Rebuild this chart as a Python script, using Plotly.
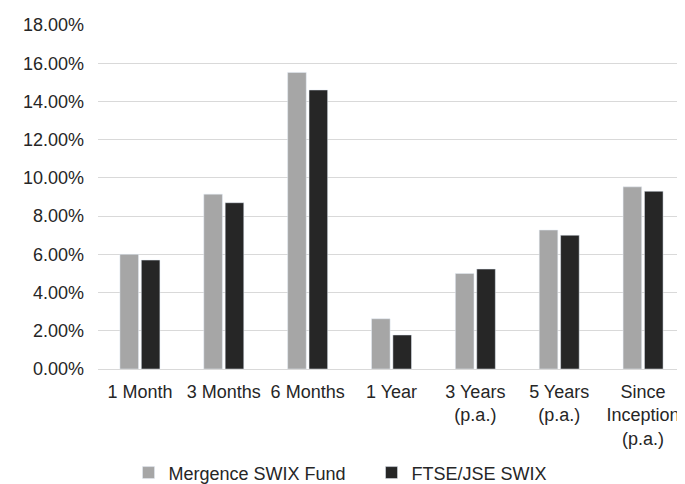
import plotly.graph_objects as go

categories = ["1 Month", "3 Months", "6 Months", "1 Year", "3 Years<br>(p.a.)",
              "5 Years<br>(p.a.)", "Since<br>Inception<br>(p.a.)"]
fund = [6.00, 9.15, 15.52, 2.63, 5.00, 7.27, 9.53]
bench = [5.70, 8.70, 14.60, 1.78, 5.23, 7.00, 9.30]
series_names = ["Mergence SWIX Fund", "FTSE/JSE SWIX"]

font = dict(family="Arial, Liberation Sans, sans-serif", size=18, color="#262626")

fig = go.Figure()
fig.add_trace(go.Bar(x=categories, y=fund, name=series_names[0], marker_color="#A6A6A6"))
fig.add_trace(go.Bar(x=categories, y=bench, name=series_names[1], marker_color="#262626"))

# page body adds an 8px margin, so the figure is 8px smaller and shifted accordingly
fig.update_layout(
    width=677, height=476,
    margin=dict(l=90, r=0, t=17, b=115, autoexpand=False),
    paper_bgcolor="white", plot_bgcolor="white",
    font=font,
    barmode="group", bargap=0.49, bargroupgap=0.13,
    showlegend=True,
    legend=dict(orientation="h", x=0.052, xanchor="left", y=-0.302, yanchor="middle",
                font=font, itemwidth=30, traceorder="normal",
                entrywidth=198, entrywidthmode="pixels"),
    xaxis=dict(showline=False, ticks="", tickangle=0, tickfont=font,
               automargin=False, ticklabelstandoff=10),
    yaxis=dict(range=[0, 18], dtick=2, tickformat=".2f", ticksuffix="%",
               showgrid=True, gridcolor="#D9D9D9", gridwidth=1,
               zeroline=True, zerolinecolor="#D9D9D9", zerolinewidth=1,
               ticks="", tickfont=font, automargin=False, ticklabelstandoff=13),
)

fig.write_html("out.html")
